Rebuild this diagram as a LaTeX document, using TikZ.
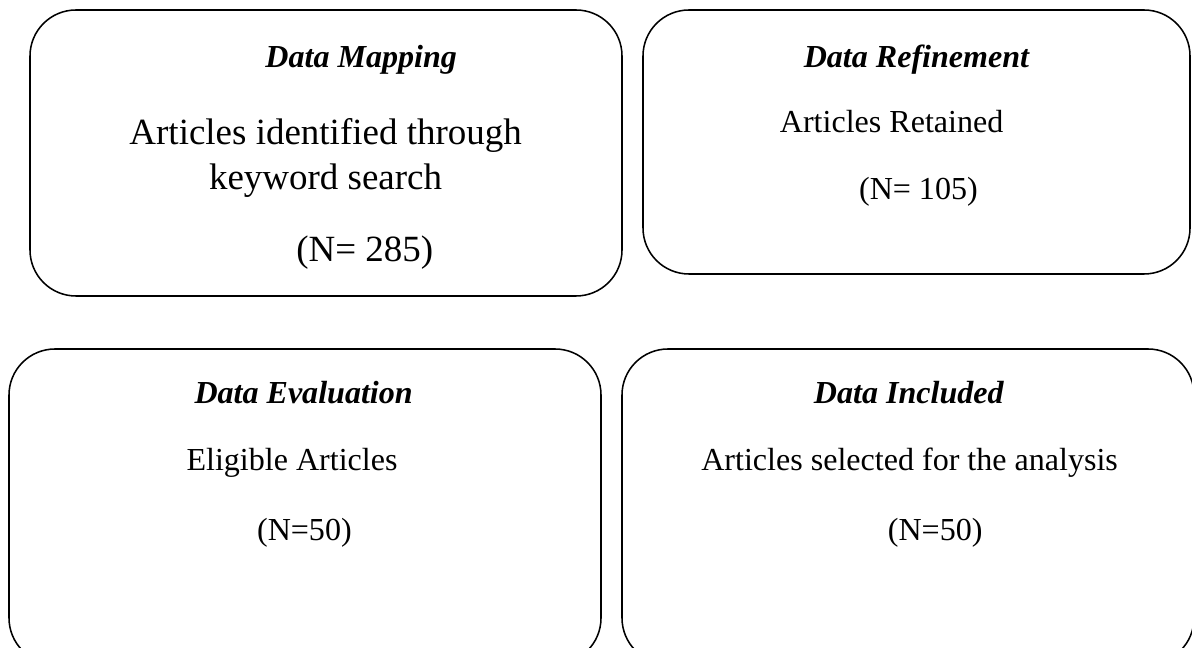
\documentclass[tikz,border=0pt]{standalone}
\usepackage{fontspec}
\setmainfont{Liberation Serif}
\tikzset{
  box/.style={line width=1.1pt, rounded corners=1.15cm},
  head/.style={font=\fontsize{22.8}{27}\selectfont\bfseries\itshape},
  txt/.style={font=\fontsize{22.8}{27}\selectfont},
  big/.style={font=\fontsize{26.3}{32}\selectfont, align=center}
}
\begin{document}
\begin{tikzpicture}
\useasboundingbox (0,0) rectangle (29.8,16.2);
\clip (0,0) rectangle (29.8,16.2);

% boxes
\draw[box] (0.75,8.8) rectangle (15.55,15.95);
\draw[box] (16.075,9.35) rectangle (29.75,15.95);
\draw[box] (0.225,-0.4) rectangle (15.025,7.475);
\draw[box] (15.55,-0.4) rectangle (29.85,7.475);

% mapping
\node[head] (maphead) at (9.03,14.7) {Data Mapping};
\node[big] (maptxt) at (8.14,12.26) {Articles identified through\\keyword search};
\node[big] (mapn) at (9.12,9.875) {(N= 285)};

% refinement
\node[head] (refhead) at (22.91,14.7) {Data Refinement};
\node[txt] (reftxt) at (22.29,13.15) {Articles Retained};
\node[txt] (refn) at (22.96,11.4) {(N= 105)};

% evaluation
\node[head] (evalhead) at (7.59,6.375) {Data Evaluation};
\node[txt] (evaltxt) at (7.3,4.625) {Eligible Articles};
\node[txt] (evaln) at (7.61,2.875) {(N=50)};

% included
\node[head] (inclhead) at (22.72,6.375) {Data Included};
\node[txt] (incltxt) at (22.74,4.625) {Articles selected for the analysis};
\node[txt] (incln) at (23.38,2.875) {(N=50)};
\end{tikzpicture}
\end{document}
